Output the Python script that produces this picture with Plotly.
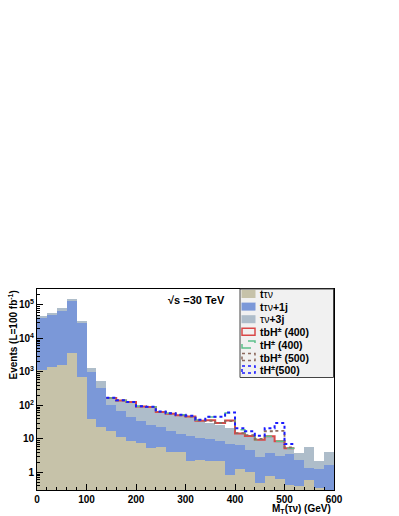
import plotly.graph_objects as go

# bin edges 0..600 GeV in 20 GeV steps
bin_lo = list(range(0, 600, 20))
bin_centers = [b + 10 for b in bin_lo]

# stacked backgrounds (events per bin)
t_taunu = [1150, 1400, 1580, 3600, 720, 40, 22.4, 17.8, 11.2, 8.9,
           7.4, 5.25, 5.6, 4.1, 4.1, 2.25, 2.3, 2.2, 2.2, 0.85,
           1.29, 1.07, 0.48, 0.79, 0.63, 0.43, 0.4, 0.6, 0.34, 0.28]
t_taunu_1j = [39900, 49600, 62400, 131400, 29300, 980, 302, 89, 57, 37,
              28, 21.8, 16.8, 13.7, 10.4, 10.3, 8.2, 7.8, 6.8, 6.15,
              5.3, 3.7, 2.5, 3.0, 2.4, 3.2, 2.0, 0.75, 0.96, 1.42]
taunu_3j = [3700, 6000, 16000, 15000, 3500, 310, 221, 61, 73, 80,
            57.5, 62, 40.6, 38, 35.5, 33.4, 23.5, 20, 17, 15,
            7.4, 7.5, 6.5, 8.2, 5.5, 1.7, 1.5, 4.45, 0.9, 2.4]

# signal contributions on top of the background, bins 140..520 GeV
sig_lo = list(range(140, 520, 20))
tbH_400 = [0.3, 0.3, 0.3, 0.5, 1, 1, 1, 1, 1, 1, 6, 4, 13.5, 0.5, 0, 0, 0, 0, 0]
tH_400 = [0.8, 1, 1.5, 1.5, 2, 2, 2.5, 2.5, 2.5, 3, 15, 19, 38, 5, 0.5, 0, 0, 0, 0]
tbH_500 = [0.3, 0.3, 0.3, 0.5, 1, 1, 1, 1, 1, 1.5, 5, 4, 12, 1, 0.7, 0.5, 5, 9, 0.3]
tH_500 = [1, 1.5, 2, 2, 3, 3, 3, 3, 3, 3.5, 16, 20, 40, 7, 4.7, 3.1, 9, 21.5, 1.8]

y_tickvals = [1, 10, 100, 1000, 10000, 100000]
y_ticktext = ["<b>1</b>", "<b>10</b>", "<b>10<sup>2</sup></b>", "<b>10<sup>3</sup></b>",
              "<b>10<sup>4</sup></b>", "<b>10<sup>5</sup></b>"]
x_tickvals = [0, 100, 200, 300, 400, 500, 600]

C_BEIGE = "#c6c2a9"
C_BLUE = "#7b98d8"
C_GREY = "#aebdca"

fig = go.Figure()
for name, vals, col in [("tτν", t_taunu, C_BEIGE),
                        ("tτν+1j", t_taunu_1j, C_BLUE),
                        ("τν+3j", taunu_3j, C_GREY)]:
    fig.add_trace(go.Bar(x=bin_centers, y=vals, width=20, name=name,
                         marker=dict(color=col, line=dict(width=0)),
                         showlegend=False))

# total background per bin, used as base for the signal outlines
bkg_total = [a + b + c for a, b, c in zip(t_taunu, t_taunu_1j, taunu_3j)]
i0 = bin_lo.index(sig_lo[0])

signals = [("tbH± (400)", tbH_400, "#d94848", "solid", 2),
           ("tH± (400)", tH_400, "#5cc08a", "dash", 1.5),
           ("tbH± (500)", tbH_500, "#8c6a5e", "dot", 1.8),
           ("tH±(500)", tH_500, "#1a1aff", "dot", 2)]
for name, vals, col, dash, w in signals:
    ys = [bkg_total[i0 + k] + v for k, v in enumerate(vals)]
    xs = sig_lo + [sig_lo[-1] + 20]
    ys = ys + [ys[-1]]
    fig.add_trace(go.Scatter(x=xs, y=ys, mode="lines", line_shape="hv", name=name,
                             line=dict(color=col, dash=dash, width=w),
                             showlegend=False))

# plot area in pixels: x 37..334, y 289..490
L, R, T, B = 37, 334, 289, 490
W, H = 399, 516


def px(x):
    return (x - L) / (R - L)


def py(y):
    return (B - y) / (B - T)


shapes = []
annotations = []
# legend box
shapes.append(dict(type="rect", xref="paper", yref="paper",
                   x0=px(240), x1=px(333.5), y0=py(377.5), y1=py(289),
                   fillcolor="#f1f1f1", line=dict(color="#444444", width=1)))
legend_items = [("<b>t</b>τν", "fill", C_BEIGE, None),
                ("<b>t</b>τν<b>+1j</b>", "fill", C_BLUE, None),
                ("τν<b>+3j</b>", "fill", C_GREY, None),
                ("<b>tbH<sup>±</sup> (400)</b>", "line", "#d94848", "solid"),
                ("<b>tH<sup>±</sup> (400)</b>", "line", "#5cc08a", "dash"),
                ("<b>tbH<sup>±</sup> (500)</b>", "line", "#8c6a5e", "dot"),
                ("<b>tH<sup>±</sup>(500)</b>", "line", "#1a1aff", "dot")]
for k, (txt, kind, col, dash) in enumerate(legend_items):
    yc = 294 + 12.6 * k
    if kind == "fill":
        shapes.append(dict(type="rect", xref="paper", yref="paper",
                           x0=px(241.5), x1=px(255.5), y0=py(yc + 4), y1=py(yc - 4),
                           fillcolor=col, line=dict(width=0)))
    else:
        shapes.append(dict(type="rect", xref="paper", yref="paper",
                           x0=px(242), x1=px(255), y0=py(yc + 3.5), y1=py(yc - 3.5),
                           fillcolor="rgba(0,0,0,0)",
                           line=dict(color=col, width=1.5, dash=dash)))
    annotations.append(dict(xref="paper", yref="paper", x=px(258), y=py(yc),
                            xanchor="left", yanchor="middle", showarrow=False,
                            text=txt, font=dict(size=10.5, color="black")))

annotations.append(dict(xref="paper", yref="paper", x=px(166), y=py(300),
                        xanchor="left", yanchor="middle", showarrow=False,
                        text="<b>√s =30 TeV</b>", font=dict(size=11, color="black")))
annotations.append(dict(xref="paper", yref="paper", x=px(333), y=py(509),
                        xanchor="right", yanchor="middle", showarrow=False,
                        text="<b>M<sub>T</sub>(τν) (GeV)</b>", font=dict(size=10, color="black")))
annotations.append(dict(xref="paper", yref="paper", x=px(12), y=py(289),
                        xanchor="center", yanchor="top", showarrow=False, textangle=-90,
                        text="<b>Events (L=100 fb<sup>-1</sup>)</b>", font=dict(size=10, color="black")))

minor_y = [m * 10 ** e for e in range(-1, 6) for m in range(2, 10)]

fig.update_layout(
    width=W, height=H,
    margin=dict(l=L, r=W - R, t=T, b=H - B),
    paper_bgcolor="white", plot_bgcolor="white",
    barmode="stack", bargap=0,
    font=dict(family="Liberation Sans, Arial, sans-serif", size=10, color="black"),
    shapes=shapes, annotations=annotations,
    xaxis=dict(range=[0, 600], showgrid=False, zeroline=False,
               showline=True, linecolor="black", linewidth=1, mirror=True,
               ticks="inside", ticklen=6, tickcolor="black",
               tickvals=x_tickvals, ticktext=["<b>%d</b>" % v for v in x_tickvals],
               minor=dict(ticks="inside", ticklen=3, dtick=20, tickcolor="black", showgrid=False)),
    yaxis=dict(type="log", range=[-0.523, 5.477], showgrid=False, zeroline=False,
               showline=True, linecolor="black", linewidth=1, mirror=True,
               ticks="inside", ticklen=6, tickcolor="black",
               tickmode="array", tickvals=y_tickvals, ticktext=y_ticktext,
               minor=dict(ticks="inside", ticklen=3, tickmode="array", tickvals=minor_y,
                          tickcolor="black", showgrid=False)),
)

# the page body has a default 8px margin; drop it so the figure fills the window
fig.write_html("out.html", config={"displayModeBar": False},
               post_script="document.body.style.margin='0';")
